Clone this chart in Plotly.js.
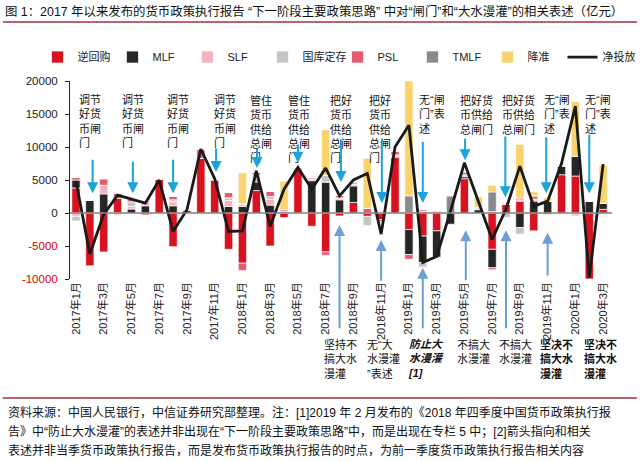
<!DOCTYPE html>
<html>
<head>
<meta charset="utf-8">
<script src="https://cdn.plot.ly/plotly-3.0.1.min.js"></script>
<style>
html, body { margin: 0; padding: 0; background: #fff; }
#plot { width: 640px; height: 461px; }
</style>
</head>
<body>
<div id="plot"></div>
<script>
// 月份（2017年1月 - 2020年3月）
let months = [
    "2017年1月", "2017年2月", "2017年3月", "2017年4月", "2017年5月", "2017年6月",
    "2017年7月", "2017年8月", "2017年9月", "2017年10月", "2017年11月", "2017年12月",
    "2018年1月", "2018年2月", "2018年3月", "2018年4月", "2018年5月", "2018年6月",
    "2018年7月", "2018年8月", "2018年9月", "2018年10月", "2018年11月", "2018年12月",
    "2019年1月", "2019年2月", "2019年3月", "2019年4月", "2019年5月", "2019年6月",
    "2019年7月", "2019年8月", "2019年9月", "2019年10月", "2019年11月", "2019年12月",
    "2020年1月", "2020年2月", "2020年3月"
];

// 各工具净投放（亿元）
let reverseRepo = [3800, -8000, -5900, 2200, 0, 0, 5100, -5100, 400, 8300, 5000, -5500,
    -7600, 3400, -5000, -700, 6700, -2000, -5900, -450, 1600, -500, -1000, 8500,
    -2500, -3500, -2700, 0, 5200, 0, -5500, 1300, 1800, -2700, -200, 5800,
    5600, -10000, 550];
let mlf = [1200, 1900, 2900, 0, 600, 1100, 0, 1100, 0, 0, 0, 1000,
    1000, 1300, 1200, 0, 0, 4900, 4700, 2000, 2500, 0, 0, 0,
    -3800, -4000, -4000, -1700, 300, 500, -2800, 0, -2200, 1800, 1800, 1250,
    3000, 1800, 900];
let slf = [-500, 0, 1300, -300, 400, 800, 0, 600, 0, 0, 150, 900,
    400, 800, 900, 200, 0, 300, 0, 300, 300, 0, 0, 300,
    0, 300, 200, 0, 300, 200, 200, 200, 200, 300, 0, 200,
    -200, 0, 0];
let treasury = [-700, 0, 0, 0, 700, 0, 0, 300, 0, 0, 0, 400,
    0, 300, 400, 0, 0, 0, 1000, 0, 0, -1400, 0, 0,
    0, -700, 0, 0, 0, 0, 0, -700, -1000, 0, 0, 0,
    0, 0, 0];
let psl = [400, 0, 1000, 800, 400, -300, 0, 500, 100, 1400, 150, 800,
    -1100, 400, 800, 300, 200, 200, -500, 400, 300, 700, -300, 600,
    -700, 250, 200, 0, 400, 150, -300, 150, 300, 500, 0, 150,
    -200, 0, 0];
let tmlf = [0, 0, 0, 0, 0, 0, 0, 0, 0, 0, 0, 0,
    0, 0, 0, 0, 0, 0, 0, 0, 0, 0, 0, 0,
    2600, 0, 0, 2600, 0, 0, 3000, 0, 0, 0, 0, 0,
    0, 0, 0];
let rrrCut = [0, 0, 0, 0, 0, 0, 0, 0, 0, 0, 0, 0,
    4700, 0, 0, 4300, 0, 0, 6900, 0, 0, 7600, 0, 0,
    17400, 0, 0, 0, 0, 1600, 1000, 0, 8100, 600, 500, 0,
    8300, 0, 5800];
let netInjection = [4800, -6200, -200, 2700, 2100, 1500, 5000, -2800, 500, 9700, 5200, -2800,
    -2700, 6400, -2000, 3600, 6900, 3600, 6800, 2600, 5000, 6000, -3200, 10000,
    13300, -7500, -6600, 300, 7600, 1800, -4000, 600, 7100, 1000, 1800, 7500,
    16200, -9800, 7400];

// 横轴标签（隔月）
let tickMonths = months.filter((m, i) => i % 2 === 0);

// 上方“闸门”表述
let topText = ["调节<br>好货<br>币闸<br>门", "调节<br>好货<br>币闸<br>门", "调节<br>好货<br>币闸<br>门",
    "调节<br>好货<br>币闸<br>门", "管住<br>货币<br>供给<br>总闸<br>门", "管住<br>货币<br>供给<br>总闸<br>门",
    "把好<br>货币<br>供给<br>总闸<br>门", "把好<br>货币<br>供给<br>总闸<br>门", "无“闸<br>门”表<br>述",
    "把好货<br>币供给<br>总闸门", "把好货<br>币供给<br>总闸门", "无“闸<br>门”表<br>述", "无“闸<br>门”表<br>述"];
let topTextX = [0.07, 3.17, 6.42, 9.8, 12.4, 15.14, 18.17, 20.98, 24.6, 27.54, 30.57, 33.6, 36.55];
let topArrowX = [1.2, 4.1, 7.0, 10.1, 13.05, 16.0, 19.1, 22.05, 25.0, 28.05, 30.95, 33.9, 37.0];
let topArrowFrom = [8300, 8000, 8300, 10000, 10000, 10600, 11400, 11400, 11000, 11500, 11800, 11700, 12100];
let topArrowTo = [3000, 3000, 3000, 6200, 6800, 7600, 4700, 1500, 1500, 8000, 2400, 3000, 3000];

// 下方“大水漫灌”表述
let bottomText = ["坚持不<br>搞大水<br>漫灌", "无“大<br>水漫灌<br>”表述", "<b><i>防止大<br>水漫灌<br>[1]</i></b>",
    "不搞大<br>水漫灌", "不搞大<br>水漫灌", "<b>坚决不<br>搞大水<br>漫灌</b>", "<b>坚决不<br>搞大水<br>漫灌</b>"];
let bottomTextX = [17.74, 20.84, 23.8, 27.3, 30.35, 33.3, 36.5];
let bottomArrowX = [19.0, 22.0, 25.0, 28.1, 31.0, 34.0, 37.0];
let bottomArrowFrom = [-17700, -10500, -17700, -10400, -17700, -9700, -17700];
let bottomArrowTo = [-1800, -4100, -8300, -2600, -2600, -3000, -10400];

let font = "Liberation Sans, Arial, Noto Sans CJK SC, sans-serif";

function barTrace(name, values, color) {
    return {
        x: months,
        y: values,
        name: name,
        type: "bar",
        marker: { color: color, line: { color: "#ffffff", width: 0.7 } }
    };
}

let pdata = [
    barTrace("逆回购", reverseRepo, "#d7131f"),
    barTrace("MLF", mlf, "#262626"),
    barTrace("SLF", slf, "#f5b2c0"),
    barTrace("国库定存", treasury, "#c4c4c4"),
    barTrace("PSL", psl, "#e35a72"),
    barTrace("TMLF", tmlf, "#8a8a8a"),
    barTrace("降准", rrrCut, "#f9d36b"),
    {
        x: months,
        y: netInjection,
        name: "净投放",
        type: "scatter",
        mode: "lines",
        line: { color: "#1a1a1a", width: 2.8 }
    }
];

let annotations = [];
for (let i = 0; i < topText.length; i++) {
    annotations.push({
        x: topTextX[i], y: 18300, xref: "x", yref: "y",
        text: topText[i], showarrow: false, align: "left",
        xanchor: "left", yanchor: "top",
        font: { size: 11, color: "#111" }
    });
    annotations.push({
        x: topArrowX[i], y: topArrowTo[i], ax: topArrowX[i], ay: topArrowFrom[i],
        xref: "x", yref: "y", axref: "x", ayref: "y",
        text: "", showarrow: true, arrowhead: 2, arrowsize: 1.1,
        arrowwidth: 2, arrowcolor: "#1ba3dc"
    });
}
for (let i = 0; i < bottomText.length; i++) {
    annotations.push({
        x: bottomTextX[i], y: -0.288, xref: "x", yref: "paper",
        text: bottomText[i], showarrow: false, align: "left",
        xanchor: "left", yanchor: "top",
        font: { size: 11, color: "#111" }
    });
    annotations.push({
        x: bottomArrowX[i], y: bottomArrowTo[i], ax: bottomArrowX[i], ay: bottomArrowFrom[i],
        xref: "x", yref: "y", axref: "x", ayref: "y",
        text: "", showarrow: true, arrowhead: 2, arrowsize: 1.1,
        arrowwidth: 2, arrowcolor: "#6b9fd6"
    });
}

// 脚注
let notes = [
    "资料来源：中国人民银行，中信证券研究部整理。注：[1]2019 年 2 月发布的《2018 年四季度中国货币政策执行报",
    "告》中“防止大水漫灌”的表述并非出现在“下一阶段主要政策思路”中，而是出现在专栏 5 中；[2]箭头指向和相关",
    "表述并非当季货币政策执行报告，而是发布货币政策执行报告的时点，为前一季度货币政策执行报告相关内容"
];
let noteY = [-0.672, -0.768, -0.864];
for (let i = 0; i < notes.length; i++) {
    annotations.push({
        x: -0.118, y: noteY[i], xref: "paper", yref: "paper",
        text: notes[i], showarrow: false, xanchor: "left", yanchor: "middle",
        font: { size: 12, color: "#111" }
    });
}

let layout = {
    width: 640,
    height: 461,
    margin: { l: 70, r: 28, t: 81, b: 182 },
    paper_bgcolor: "#ffffff",
    plot_bgcolor: "#ffffff",
    font: { family: font, size: 11, color: "#222" },
    title: {
        text: "图 1：2017 年以来发布的货币政策执行报告 “下一阶段主要政策思路” 中对“闸门”和“大水漫灌”的相关表述（亿元）",
        x: 5 / 640, xanchor: "left", y: 1 - 12 / 461, yanchor: "middle",
        font: { size: 12.4, color: "#111", family: font }
    },
    barmode: "relative",
    bargap: 0.4,
    showlegend: true,
    legend: {
        orientation: "h", x: -0.06, y: 1.121, xanchor: "left", yanchor: "middle",
        entrywidth: 30, entrywidthmode: "pixels",
        font: { size: 11, color: "#222" }, traceorder: "normal"
    },
    xaxis: {
        type: "category",
        range: [-0.43, 38.64],
        tickvals: tickMonths,
        ticktext: tickMonths,
        tickangle: -90,
        ticks: "",
        showline: false,
        showgrid: false,
        zeroline: false,
        tickfont: { size: 11, color: "#222" }
    },
    yaxis: {
        range: [-10000, 20000],
        tickvals: [-10000, -5000, 0, 5000, 10000, 15000, 20000],
        ticktext: ['<span style="color:#e00000">-10000</span>', '<span style="color:#e00000">-5000</span>',
            "0", "5000", "10000", "15000", "20000"],
        showline: true, linecolor: "#222", linewidth: 1,
        ticks: "outside", ticklen: 4, tickcolor: "#222",
        ticklabelstandoff: 5,
        showgrid: false, zeroline: false,
        tickfont: { size: 11.5, color: "#222" }
    },
    shapes: [
        { type: "line", xref: "paper", yref: "y", x0: 0, x1: 1, y0: 0, y1: 0,
          line: { color: "#808080", width: 1.5 }, layer: "above" },
        { type: "line", xref: "paper", yref: "paper", x0: -0.124, x1: 1.046, y0: 1.298, y1: 1.298,
          line: { color: "#a3303f", width: 1.5 } },
        { type: "line", xref: "paper", yref: "paper", x0: -0.124, x1: 1.046, y0: -0.601, y1: -0.601,
          line: { color: "#a3303f", width: 1.5 } }
    ],
    annotations: annotations
};

Plotly.newPlot("plot", pdata, layout, { displayModeBar: false, staticPlot: true });
</script>
</body>
</html>
